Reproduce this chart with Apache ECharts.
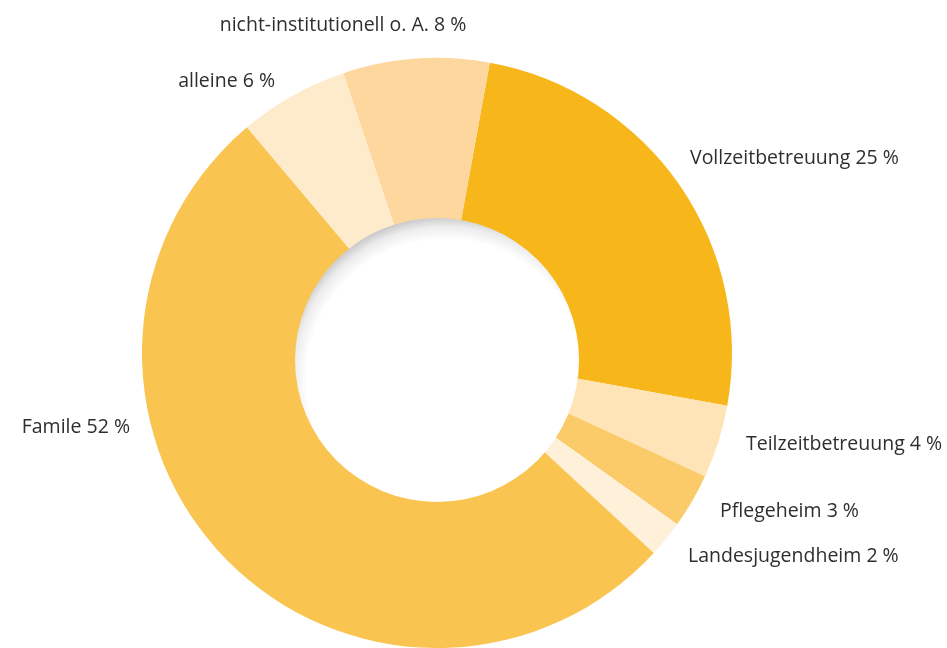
<!DOCTYPE html>
<html>
<head>
<meta charset="utf-8">
<script src="https://cdn.jsdelivr.net/npm/echarts@6/dist/echarts.min.js"></script>
<style>
html,body{margin:0;padding:0;background:#fff;}
#chart{width:947px;height:648px;}
</style>
</head>
<body>
<div id="chart"></div>
<script>
// Data
const categories = ['Vollzeitbetreuung', 'Teilzeitbetreuung', 'Pflegeheim', 'Landesjugendheim', 'Famile', 'alleine', 'nicht-institutionell o. A.'];
const values = [25, 4, 3, 2, 52, 6, 8];

// Styles (kept separate from data)
const colors = ['#F7B71B', '#FEE4B6', '#FBCB69', '#FEF0D9', '#F9C44F', '#FEEBCC', '#FED79E'];
const labelAnchors = [
  {x: 690, y: 158, align: 'left'},
  {x: 746, y: 444, align: 'left'},
  {x: 720, y: 511, align: 'left'},
  {x: 688, y: 556, align: 'left'},
  {x: 130, y: 427, align: 'right'},
  {x: 275, y: 81, align: 'right'},
  {x: 343, y: 25, align: 'center'}
];

const chart = echarts.init(document.getElementById('chart'), null, {renderer: 'canvas'});
chart.setOption({
  animation: false,
  backgroundColor: '#ffffff',
  series: [{
    type: 'pie',
    center: [437, 353],
    radius: [128, 295],
    startAngle: 79.7,
    clockwise: true,
    silent: true,
    avoidLabelOverlap: false,
    label: {
      show: true,
      position: 'outside',
      formatter: '{b} {c} %',
      fontFamily: 'Open Sans',
      fontSize: 19.5,
      color: '#2e2e2e'
    },
    labelLine: {show: false},
    labelLayout: function (p) {
      const a = labelAnchors[p.dataIndex];
      return {x: a.x, y: a.y, align: a.align, verticalAlign: 'middle'};
    },
    itemStyle: {borderWidth: 0},
    data: categories.map((c, i) => ({name: c, value: values[i], itemStyle: {color: colors[i]}}))
  }],
  graphic: [{
    type: 'circle',
    z: 100,
    shape: {cx: 437, cy: 360, r: 142},
    style: {
      fill: {
        type: 'radial', x: 0.53, y: 0.565, r: 0.57,
        colorStops: [
          {offset: 0, color: '#ffffff'},
          {offset: 0.86, color: '#ffffff'},
          {offset: 0.94, color: '#ececec'},
          {offset: 1, color: '#c9c9c9'}
        ]
      }
    }
  }]
});
</script>
</body>
</html>
